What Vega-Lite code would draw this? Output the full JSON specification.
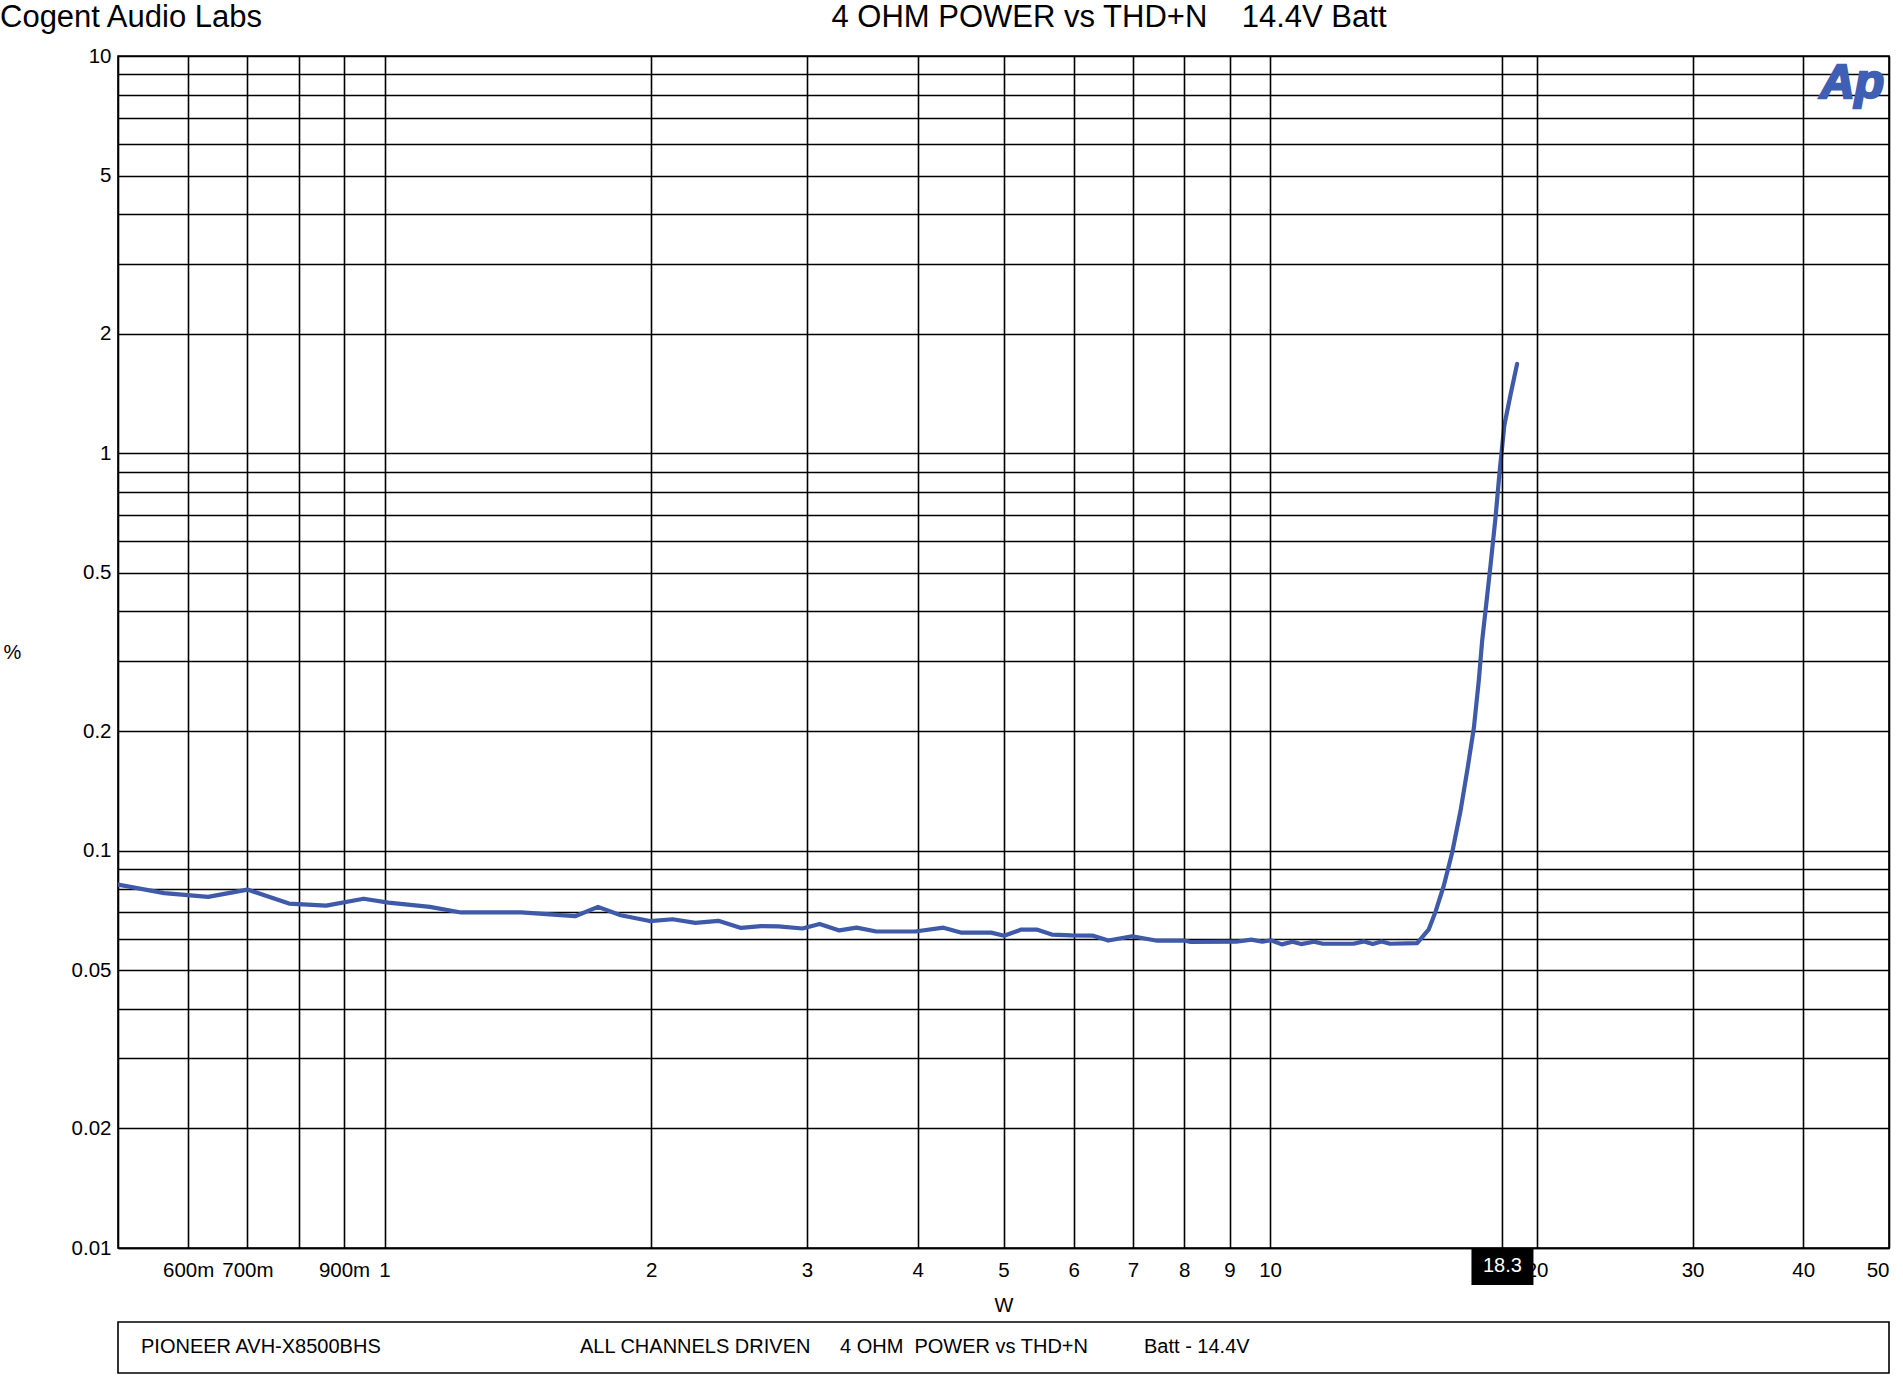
{
  "$schema": "https://vega.github.io/schema/vega-lite/v6.json",
  "width": 1771,
  "height": 1192,
  "autosize": {"type": "none"},
  "padding": {"left": 118, "top": 56, "right": 14, "bottom": 138},
  "background": "white",
  "config": {
    "font": "Liberation Sans",
    "view": {"stroke": "black", "strokeWidth": 1.6}
  },
  "datasets": {
    "thd": [
      {"W": 0.500, "pct": 0.0822},
      {"W": 0.564, "pct": 0.0782},
      {"W": 0.632, "pct": 0.0765},
      {"W": 0.700, "pct": 0.0798},
      {"W": 0.780, "pct": 0.0736},
      {"W": 0.859, "pct": 0.0727},
      {"W": 0.947, "pct": 0.0757},
      {"W": 1.010, "pct": 0.0740},
      {"W": 1.125, "pct": 0.0722},
      {"W": 1.220, "pct": 0.0699},
      {"W": 1.427, "pct": 0.0699},
      {"W": 1.641, "pct": 0.0684},
      {"W": 1.742, "pct": 0.0722},
      {"W": 1.848, "pct": 0.0688},
      {"W": 1.993, "pct": 0.0665},
      {"W": 2.115, "pct": 0.0672},
      {"W": 2.244, "pct": 0.0658},
      {"W": 2.382, "pct": 0.0666},
      {"W": 2.527, "pct": 0.0639},
      {"W": 2.661, "pct": 0.0646},
      {"W": 2.786, "pct": 0.0645},
      {"W": 2.964, "pct": 0.0637},
      {"W": 3.100, "pct": 0.0654},
      {"W": 3.263, "pct": 0.0630},
      {"W": 3.413, "pct": 0.0640},
      {"W": 3.592, "pct": 0.0626},
      {"W": 3.974, "pct": 0.0626},
      {"W": 4.277, "pct": 0.0640},
      {"W": 4.474, "pct": 0.0622},
      {"W": 4.842, "pct": 0.0622},
      {"W": 5.008, "pct": 0.0611},
      {"W": 5.239, "pct": 0.0633},
      {"W": 5.450, "pct": 0.0633},
      {"W": 5.670, "pct": 0.0615},
      {"W": 5.966, "pct": 0.0612},
      {"W": 6.312, "pct": 0.0611},
      {"W": 6.567, "pct": 0.0594},
      {"W": 6.985, "pct": 0.0609},
      {"W": 7.431, "pct": 0.0594},
      {"W": 7.998, "pct": 0.0594},
      {"W": 8.134, "pct": 0.0589},
      {"W": 9.157, "pct": 0.0590},
      {"W": 9.526, "pct": 0.0597},
      {"W": 9.800, "pct": 0.0590},
      {"W": 10.02, "pct": 0.0595},
      {"W": 10.31, "pct": 0.0581},
      {"W": 10.60, "pct": 0.0590},
      {"W": 10.84, "pct": 0.0582},
      {"W": 11.21, "pct": 0.0590},
      {"W": 11.47, "pct": 0.0583},
      {"W": 12.42, "pct": 0.0583},
      {"W": 12.77, "pct": 0.0591},
      {"W": 13.06, "pct": 0.0582},
      {"W": 13.36, "pct": 0.0591},
      {"W": 13.66, "pct": 0.0583},
      {"W": 14.66, "pct": 0.0585},
      {"W": 15.11, "pct": 0.0634},
      {"W": 15.38, "pct": 0.0703},
      {"W": 15.71, "pct": 0.0816},
      {"W": 16.06, "pct": 0.0991},
      {"W": 16.41, "pct": 0.126},
      {"W": 16.72, "pct": 0.162},
      {"W": 16.99, "pct": 0.204},
      {"W": 17.21, "pct": 0.269},
      {"W": 17.36, "pct": 0.338},
      {"W": 17.56, "pct": 0.425},
      {"W": 17.74, "pct": 0.522},
      {"W": 17.97, "pct": 0.687},
      {"W": 18.17, "pct": 0.905},
      {"W": 18.39, "pct": 1.177},
      {"W": 18.68, "pct": 1.398},
      {"W": 19.01, "pct": 1.679}
    ],
    "cursor": [{"W": 18.3, "label": "18.3"}]
  },
  "layer": [
    {
      "data": {"name": "thd"},
      "mark": {"type": "line", "color": "#3e5aa9", "strokeWidth": 4.2, "strokeCap": "round", "strokeJoin": "round", "clip": true},
      "encoding": {
        "x": {
          "field": "W", "type": "quantitative",
          "scale": {"type": "log", "domain": [0.5, 50], "nice": false},
          "axis": {
            "values": [0.6, 0.7, 0.8, 0.9, 1, 2, 3, 4, 5, 6, 7, 8, 9, 10, 20, 30, 40, 50],
            "format": "~g",
            "labelExpr": "datum.value == 0.8 ? '' : (datum.value < 1 ? round(datum.value * 1000) + 'm' : datum.label)",
            "grid": true, "gridColor": "black", "gridWidth": 1.6, "gridOpacity": 1,
            "ticks": false,
            "domainColor": "black", "domainWidth": 1.6,
            "labelFontSize": 20.5, "labelColor": "black", "labelPadding": 12,
            "labelOverlap": false, "labelFlush": true,
            "title": "W", "titleFontSize": 20, "titleFontWeight": "normal", "titleColor": "black",
            "titleY": 57, "titleBaseline": "middle",
            "zindex": 0
          }
        },
        "y": {
          "field": "pct", "type": "quantitative",
          "scale": {"type": "log", "domain": [0.01, 10], "nice": false},
          "axis": {
            "values": [0.01, 0.02, 0.03, 0.04, 0.05, 0.06, 0.07, 0.08, 0.09, 0.1, 0.2, 0.3, 0.4, 0.5, 0.6, 0.7, 0.8, 0.9, 1, 2, 3, 4, 5, 6, 7, 8, 9, 10],
            "format": "~g",
            "labelExpr": "indexof([0.01, 0.02, 0.05, 0.1, 0.2, 0.5, 1, 2, 5, 10], datum.value) >= 0 ? datum.label : ''",
            "grid": true, "gridColor": "black", "gridWidth": 1.6, "gridOpacity": 1,
            "ticks": false,
            "domainColor": "black", "domainWidth": 1.6,
            "labelFontSize": 20.5, "labelColor": "black", "labelPadding": 7,
            "labelOverlap": false,
            "title": "%", "titleFontSize": 20, "titleFontWeight": "normal", "titleColor": "black",
            "titleAngle": 0, "titleX": -106, "titleY": 596, "titleAlign": "center", "titleBaseline": "middle",
            "zindex": 0
          }
        }
      }
    },
    {
      "data": {"name": "cursor"},
      "mark": {"type": "rule", "color": "black", "strokeWidth": 1.6},
      "encoding": {"x": {"field": "W", "type": "quantitative"}}
    },
    {
      "data": {"name": "cursor"},
      "mark": {"type": "rule", "color": "black", "strokeWidth": 62, "strokeCap": "butt"},
      "encoding": {
        "x": {"field": "W", "type": "quantitative"},
        "y": {"value": 1192},
        "y2": {"value": 1229}
      }
    },
    {
      "data": {"name": "cursor"},
      "mark": {"type": "text", "color": "white", "fontSize": 20, "align": "center", "baseline": "middle"},
      "encoding": {
        "x": {"field": "W", "type": "quantitative"},
        "y": {"value": 1210},
        "text": {"field": "label"}
      }
    },
    {
      "data": {"values": [{}]},
      "mark": {"type": "rect", "fill": null, "fillOpacity": 0, "stroke": "black", "strokeWidth": 1.6},
      "encoding": {
        "x": {"value": 0}, "x2": {"value": 1771},
        "y": {"value": 1266}, "y2": {"value": 1317}
      }
    },
    {
      "data": {"values": [{}]},
      "mark": {"type": "text", "text": "PIONEER AVH-X8500BHS", "fontSize": 20, "align": "left", "baseline": "alphabetic", "color": "black"},
      "encoding": {"x": {"value": 23}, "y": {"value": 1297}}
    },
    {
      "data": {"values": [{}]},
      "mark": {"type": "text", "text": "ALL CHANNELS DRIVEN", "fontSize": 20, "align": "left", "baseline": "alphabetic", "color": "black"},
      "encoding": {"x": {"value": 462}, "y": {"value": 1297}}
    },
    {
      "data": {"values": [{}]},
      "mark": {"type": "text", "text": "4 OHM\u00a0 POWER vs THD+N", "fontSize": 20, "align": "left", "baseline": "alphabetic", "color": "black"},
      "encoding": {"x": {"value": 722}, "y": {"value": 1297}}
    },
    {
      "data": {"values": [{}]},
      "mark": {"type": "text", "text": "Batt - 14.4V", "fontSize": 20, "align": "left", "baseline": "alphabetic", "color": "black"},
      "encoding": {"x": {"value": 1026}, "y": {"value": 1297}}
    },
    {
      "data": {"values": [{}]},
      "mark": {"type": "text", "text": "Cogent Audio Labs", "fontSize": 31, "align": "left", "baseline": "alphabetic", "color": "black"},
      "encoding": {"x": {"value": -118}, "y": {"value": -29}}
    },
    {
      "data": {"values": [{}]},
      "mark": {"type": "text", "text": "4 OHM POWER vs THD+N\u00a0\u00a0\u00a0 14.4V Batt", "fontSize": 31, "align": "center", "baseline": "alphabetic", "color": "black"},
      "encoding": {"x": {"value": 991}, "y": {"value": -29}}
    },
    {
      "data": {"values": [{}]},
      "mark": {"type": "text", "text": "Ap", "fontSize": 48, "fontWeight": "bold", "fontStyle": "italic", "align": "right", "baseline": "alphabetic", "color": "#3f5fb5", "stroke": "#3f5fb5", "strokeWidth": 2.5},
      "encoding": {"x": {"value": 1766}, "y": {"value": 42}}
    }
  ]
}
